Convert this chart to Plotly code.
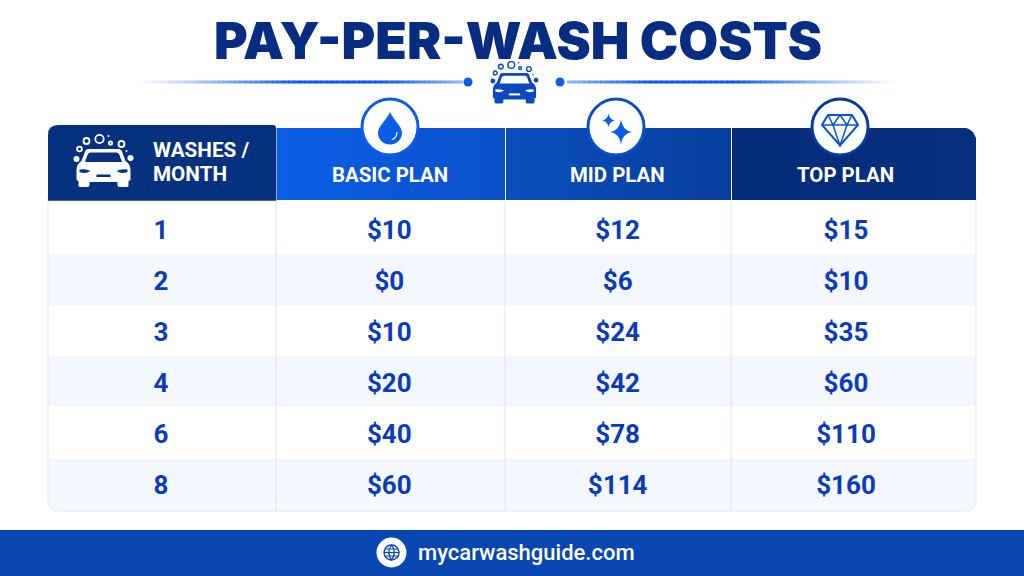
import plotly.graph_objects as go

# Table content
columns = ["WASHES / MONTH", "BASIC PLAN", "MID PLAN", "TOP PLAN"]
washes = ["1", "2", "3", "4", "6", "8"]
basic_plan = [10, 0, 10, 20, 40, 60]
mid_plan = [12, 6, 24, 42, 78, 114]
top_plan = [15, 10, 35, 60, 110, 160]

NAVY = "#062d82"
BLUE = "#0b5ce6"
TEXT_BLUE = "#0b3cb8"
BORDER = "#d8e5fa"
TINT = "#f4f7fd"
FOOTER = "#0847b1"

shapes = []


def hex_mix(c1, c2, t):
    a = [int(c1[i:i + 2], 16) for i in (1, 3, 5)]
    b = [int(c2[i:i + 2], 16) for i in (1, 3, 5)]
    return "#%02x%02x%02x" % tuple(round(p + (q - p) * t) for p, q in zip(a, b))


def add_path(path, fill=None, line=None, width=0):
    shapes.append(dict(type="path", path=path, fillcolor=fill, xref="x", yref="y",
                       line=dict(color=line, width=width)))


def add_rect(x0, y0, x1, y1, fill):
    shapes.append(dict(type="rect", x0=x0, y0=y0, x1=x1, y1=y1, xref="x", yref="y",
                       fillcolor=fill, line=dict(width=0)))


def add_line(x0, y0, x1, y1, color, width=1):
    shapes.append(dict(type="line", x0=x0, y0=y0, x1=x1, y1=y1, xref="x", yref="y",
                       line=dict(color=color, width=width)))


def add_circle(cx, cy, r, fill=None, line=None, width=0):
    shapes.append(dict(type="circle", x0=cx - r, y0=cy - r, x1=cx + r, y1=cy + r,
                       xref="x", yref="y", fillcolor=fill,
                       line=dict(color=line, width=width)))


def fading_rule(x0, x1, y, stops, steps=60):
    step = (x1 - x0) / steps
    for i in range(steps):
        t = i / (steps - 1) * (len(stops) - 1)
        k = min(int(t), len(stops) - 2)
        add_line(x0 + i * step, y, x0 + (i + 1) * step + 1, y, hex_mix(stops[k], stops[k + 1], t - k), 3)


def car_icon(cx, top, s, color, bg):
    def px(x, y):
        return f"{cx + x * s:.1f},{top + y * s:.1f}"

    body = (f"M {px(-15, 0)} L {px(15, 0)} Q {px(18, 0)} {px(19, 4)} L {px(22, 12)} "
            f"Q {px(27, 15)} {px(27, 21)} L {px(27, 31)} L {px(25, 32)} L {px(25, 37)} "
            f"Q {px(25, 38)} {px(23, 38)} L {px(16, 38)} Q {px(14, 38)} {px(14, 36)} L {px(14, 33)} "
            f"L {px(-14, 33)} L {px(-14, 36)} Q {px(-14, 38)} {px(-16, 38)} L {px(-23, 38)} "
            f"Q {px(-25, 38)} {px(-25, 37)} L {px(-25, 32)} L {px(-27, 31)} L {px(-27, 21)} "
            f"Q {px(-27, 15)} {px(-22, 12)} L {px(-19, 4)} Q {px(-18, 0)} {px(-15, 0)} Z")
    add_path(body, fill=color)
    glass = (f"M {px(-13, 3.5)} L {px(13, 3.5)} Q {px(15, 3.5)} {px(16, 6)} L {px(18.5, 13)} "
             f"L {px(-18.5, 13)} L {px(-16, 6)} Q {px(-15, 3.5)} {px(-13, 3.5)} Z")
    add_path(glass, fill=bg)
    for side in (-1, 1):
        lamp = (f"M {px(side * 24, 20.5)} Q {px(side * 17, 19.5)} {px(side * 13, 22)} "
                f"Q {px(side * 18, 25.5)} {px(side * 24, 23)} Z")
        add_path(lamp, fill=bg)
    add_rect(cx - 7 * s, top + 25.5 * s, cx + 7 * s, top + 28 * s, bg)
    # suds around the roof
    for dx, dy, r in [(-17, -8, 3), (-4, -10, 4.2), (-24, 0, 2.4), (18, -5, 3), (7, -6, 1.7)]:
        add_circle(cx + dx * s, top + dy * s, r * s, line=color, width=1.8 * s)
    for dx, dy, r in [(5, -13, 1), (23, 2, 1), (-27, 10, 3), (27, 9, 3)]:
        add_circle(cx + dx * s, top + dy * s, r * s, fill=color)


def star(cx, cy, rx, ry, color):
    k = 0.12
    add_path(f"M {cx},{cy - ry} Q {cx + rx * k},{cy - ry * k} {cx + rx},{cy} "
             f"Q {cx + rx * k},{cy + ry * k} {cx},{cy + ry} "
             f"Q {cx - rx * k},{cy + ry * k} {cx - rx},{cy} "
             f"Q {cx - rx * k},{cy - ry * k} {cx},{cy - ry} Z", fill=color)


# Title rule
fading_rule(136, 462, 82, ["#ffffff", "#8fb6f5", BLUE, BLUE, "#8fb6f5"])
fading_rule(567, 898, 82, ["#8fb6f5", BLUE, BLUE, "#8fb6f5", "#ffffff"])

# Table body
add_path("M 48,195 L 976,195 L 976,501 Q 976,511 966,511 L 58,511 Q 48,511 48,501 Z",
         fill="#ffffff", line=BORDER, width=1)
for y0 in (254, 356):
    add_rect(49, y0, 975, y0 + 51, TINT)
add_path("M 49,458.5 L 975,458.5 L 975,501 Q 975,510.5 966,510.5 L 58,510.5 Q 49,510.5 49,501 Z",
         fill=TINT)
for x in (276, 505, 731):
    add_line(x, 200, x, 511, BORDER, 1)

# everything so far has to stay under the cell values
for s in shapes:
    s["layer"] = "below"

add_circle(468, 82, 4.5, fill=BLUE)
add_circle(560, 82, 4.5, fill=BLUE)
car_icon(514.5, 73, 0.8, "#0a48c0", "#ffffff")

# Table header
add_path("M 48,200 L 48,135 Q 48,125 58,125 L 273,125 Q 276,125 276,128 L 276,200 Z", fill="#06317f")
add_line(48, 200, 276, 200, "#06317f", 1.5)
car_icon(103.5, 149, 1.0, "#ffffff", "#06317f")

# Plan badges
for cx, ring in [(390, "#0b5ce6"), (616, "#0a4fc4"), (840, "#073a9c")]:
    add_circle(cx, 127, 28, fill="#ffffff", line=ring, width=3)

add_path("M 390,112 C 394,121 402,126 402,133 C 402,140 396,144.5 390,144.5 "
         "C 384,144.5 378,140 378,133 C 378,126 386,121 390,112 Z", fill=BLUE)
add_path("M 397,132 C 397,136 395,138.5 392,139.5", line="#ffffff", width=1.2)

star(621, 132, 11, 12.5, BLUE)
star(608.5, 120.5, 6.5, 7, BLUE)

dia = "#0b50d0"
add_path("M 828,115 L 852,115 L 858,125 L 840,145.5 L 822,125 Z", line=dia, width=2)
add_path("M 822,125 L 858,125 M 828,115 L 833,125 L 840,115 L 847,125 L 852,115 "
         "M 833,125 L 840,145.5 L 847,125", line=dia, width=1.5)

# Footer
add_rect(0, 530, 1024, 576, FOOTER)
add_circle(391.5, 552.5, 15, fill="#ffffff")
add_circle(391.5, 552.5, 7.5, line=FOOTER, width=1.4)
add_path("M 391.5,545 Q 386,552.5 391.5,560 Q 397,552.5 391.5,545 Z", line=FOOTER, width=1.2)
add_line(384, 552.5, 399, 552.5, FOOTER, 1.2)
add_line(385.5, 549, 397.5, 549, FOOTER, 1)
add_line(385.5, 556, 397.5, 556, FOOTER, 1)


def label(x, y, text, size, color="#ffffff", family="Roboto", weight=700, anchor="center"):
    return dict(x=x, y=y, xref="x", yref="y", text=text, showarrow=False, xanchor=anchor,
                yanchor="middle", font=dict(family=family, size=size, color=color, weight=weight))


annotations = [
    label(517.5, 40, "PAY-PER-WASH COSTS", 51.5, NAVY, "Inter", 900),
    label(151, 150, "WASHES /", 20.7, anchor="left"),
    label(151, 174, "MONTH", 20.7, anchor="left"),
    label(389.5, 175, columns[1], 20.4),
    label(617, 175, columns[2], 20.4),
    label(845, 175, columns[3], 20.4),
    label(526.5, 552, "mycarwashguide.com", 22, "#ffffff", "Roboto", 500),
]

fig = go.Figure()

# Header bands, plotly shapes cannot take a gradient but a filled trace can
for x0, x1, c0, c1 in [(276.5, 505, "#0b5fe6", "#0a50ca"),
                       (506, 731, "#0a4fbd", "#073e9d")]:
    fig.add_trace(go.Scatter(
        x=[x0, x1, x1, x0, x0], y=[128, 128, 200, 200, 128], mode="none", fill="toself",
        fillgradient=dict(type="horizontal", colorscale=[[0, c0], [1, c1]]),
        hoverinfo="skip", showlegend=False,
    ))
fig.add_trace(go.Scatter(
    x=[732, 966, 969, 973, 976, 976, 732, 732], y=[128, 128, 129, 132, 138, 200, 200, 128],
    mode="none", fill="toself",
    fillgradient=dict(type="horizontal", colorscale=[[0, "#052c78"], [1, "#062f80"]]),
    hoverinfo="skip", showlegend=False,
))

# Cell values sit on category axes, one step per column and row
for col, values in zip(columns, [washes, basic_plan, mid_plan, top_plan]):
    cells = [v if isinstance(v, str) else f"${v}" for v in values]
    fig.add_trace(go.Scatter(
        x=[col] * len(washes), y=washes, text=cells, mode="text",
        textposition="middle center", xaxis="x2", yaxis="y2", hoverinfo="skip",
        textfont=dict(family="Roboto", size=26, color=TEXT_BLUE, weight=700),
        showlegend=False,
    ))

COL_STEP = 228.33
ROW_STEP = 51
ROW_ONE_Y = 232.5  # nudged down, text renders a little above its anchor

fig.update_layout(
    width=1024,
    height=576,
    margin=dict(l=0, r=0, t=0, b=0),
    paper_bgcolor="#ffffff",
    plot_bgcolor="#ffffff",
    showlegend=False,
    xaxis=dict(range=[0, 1024], visible=False, fixedrange=True),
    yaxis=dict(range=[576, 0], visible=False, fixedrange=True),
    xaxis2=dict(type="category", categoryorder="array", categoryarray=columns, overlaying="x",
                range=[-161 / COL_STEP, (1024 - 161) / COL_STEP], visible=False, fixedrange=True),
    yaxis2=dict(type="category", categoryorder="array", categoryarray=washes, overlaying="y",
                range=[(576 - ROW_ONE_Y) / ROW_STEP, -ROW_ONE_Y / ROW_STEP], visible=False, fixedrange=True),
    shapes=shapes,
    annotations=annotations,
)

fig.write_html("out.html", config={"displayModeBar": False},
               post_script="document.body.style.margin='0';")
